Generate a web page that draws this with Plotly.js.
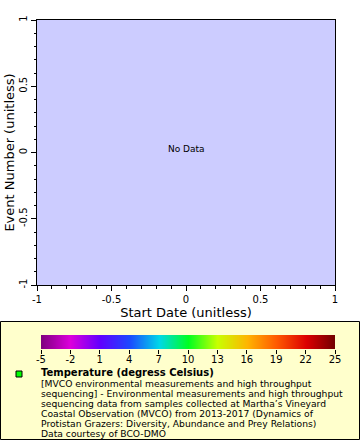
<!DOCTYPE html>
<html>
<head>
<meta charset="utf-8">
<script src="https://cdn.plot.ly/plotly-3.0.1.min.js"></script>
<style>html,body{margin:0;padding:0;background:#fff;}#chart{width:360px;height:440px;}</style>
</head>
<body>
<div id="chart"></div>
<script>
// Axis ranges (no data in the main plot)
const xRange = [-1, 1];
const yRange = [-1, 1];
const xTicks = [-1, -0.5, 0, 0.5, 1];
const yTicks = [-1, -0.5, 0, 0.5, 1];
// Main plot data: empty
const startDate = [];
const eventNumber = [];
// Colour bar
const cbTicks = [-5, -2, 1, 4, 7, 10, 13, 16, 19, 22, 25];
const cbColors = ['#800080', '#dc00dc', '#6000ff', '#1c48ff', '#00d8e8', '#00ff20', '#c8ff00', '#ffb400', '#ff5a00', '#dc0000', '#700000'];
const legendTitle = 'Temperature (degress Celsius)';
const legendLines = [
  '[MVCO environmental measurements and high throughput',
  'sequencing] - Environmental measurements and high throughput',
  'sequencing data from samples collected at Martha\u2019s Vineyard',
  'Coastal Observation (MVCO) from 2013-2017 (Dynamics of',
  'Protistan Grazers: Diversity, Abundance and Prey Relations)',
  'Data courtesy of BCO-DMO'
];

const W = 360, H = 440;
const px = x => x / W;
const py = y => 1 - y / H;
const F = 'DejaVu Sans, sans-serif';

const cmin = cbTicks[0], cmax = cbTicks[cbTicks.length - 1];
const colorscale = cbTicks.map((v, i) => [(v - cmin) / (cmax - cmin), cbColors[i]]);

const traces = [
  {type: 'scatter', mode: 'markers', x: startDate, y: eventNumber, xaxis: 'x', yaxis: 'y',
   marker: {color: '#00ff00'}, showlegend: false, hoverinfo: 'skip'},
  {type: 'heatmap', x: cbTicks, y: [0], z: [cbTicks], xaxis: 'x2', yaxis: 'y2',
   colorscale: colorscale, zmin: cmin, zmax: cmax, zsmooth: 'best', showscale: false, hoverinfo: 'skip'}
];

const axisCommon = {
  showgrid: false, zeroline: false, showline: true, linecolor: '#000', linewidth: 1, mirror: true,
  ticks: 'outside', ticklen: 5, tickcolor: '#000', tickwidth: 1,
  tickfont: {family: F, size: 10, color: '#000'},
  minor: {dtick: 0.1, ticks: 'outside', ticklen: 2.5, tickcolor: '#000', tickwidth: 1}
};

const layout = {
  width: W, height: H,
  margin: {l: 0, r: 0, t: 0, b: 0},
  paper_bgcolor: '#ffffff', plot_bgcolor: '#ccccff',
  showlegend: false,
  xaxis: Object.assign({}, axisCommon, {
    domain: [px(37), px(335)], range: xRange, tickvals: xTicks, ticktext: xTicks.map(String),
    anchor: 'y', fixedrange: true,
    title: {text: 'Start Date (unitless)', font: {family: F, size: 13, color: '#000'}, standoff: 2}
  }),
  yaxis: Object.assign({}, axisCommon, {
    domain: [py(285), py(20)], range: yRange, tickvals: yTicks, ticktext: yTicks.map(String),
    tickangle: -90, anchor: 'x', fixedrange: true,
    title: {text: 'Event Number (unitless)', font: {family: F, size: 13, color: '#000'}, standoff: 0}
  }),
  xaxis2: {
    domain: [px(41), px(335)], range: [cmin, cmax], anchor: 'y2',
    tickvals: cbTicks, ticktext: cbTicks.map(String),
    showgrid: false, zeroline: false, showline: false,
    ticks: 'outside', ticklen: 4, tickcolor: '#000', tickwidth: 1, ticklabelstandoff: -3,
    tickfont: {family: F, size: 10, color: '#000'}, fixedrange: true
  },
  yaxis2: {
    domain: [py(349), py(335)], range: [-0.5, 0.5], anchor: 'x2',
    showticklabels: false, showgrid: false, zeroline: false, ticks: '', fixedrange: true
  },
  shapes: [
    {type: 'rect', xref: 'paper', yref: 'paper', x0: px(0.5), x1: px(359.5), y0: py(439.5), y1: py(321.5),
     fillcolor: '#ffffcc', line: {color: '#000', width: 1}, layer: 'below'},
    {type: 'rect', xref: 'paper', yref: 'paper', x0: px(16), x1: px(22), y0: py(377), y1: py(371),
     fillcolor: '#00ff00', line: {color: '#000', width: 1}}
  ],
  annotations: [
    {xref: 'paper', yref: 'paper', x: px(186), y: py(149), text: 'No Data', showarrow: false,
     font: {family: F, size: 9, color: '#000'}, xanchor: 'center', yanchor: 'middle'},
    {xref: 'paper', yref: 'paper', x: px(40), y: py(366), text: '<b>' + legendTitle + '</b>', showarrow: false,
     font: {family: F, size: 10, color: '#000'}, xanchor: 'left', yanchor: 'top', align: 'left', borderpad: 0},
  ].concat(legendLines.map((t, i) => ({
     xref: 'paper', yref: 'paper', x: px(40), y: py(377 + i * 10), text: t, showarrow: false,
     font: {family: F, size: 9.2, color: '#000'}, xanchor: 'left', yanchor: 'top', align: 'left', borderpad: 0
  })))
};

Plotly.newPlot('chart', traces, layout, {staticPlot: true, displayModeBar: false});
</script>
</body>
</html>
